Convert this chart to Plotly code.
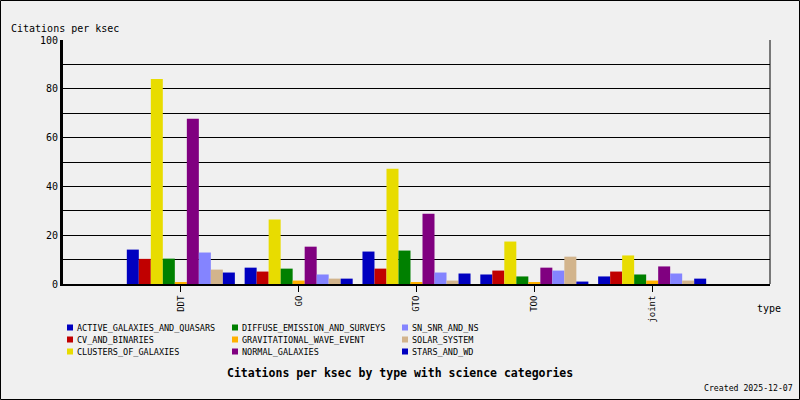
import plotly.graph_objects as go

types = ["DDT", "GO", "GTO", "TOO", "joint"]
categories = [
    "ACTIVE_GALAXIES_AND_QUASARS",
    "CV_AND_BINARIES",
    "CLUSTERS_OF_GALAXIES",
    "DIFFUSE_EMISSION_AND_SURVEYS",
    "GRAVITATIONAL_WAVE_EVENT",
    "NORMAL_GALAXIES",
    "SN_SNR_AND_NS",
    "SOLAR_SYSTEM",
    "STARS_AND_WD",
]
colors = ["#0000C0", "#C00000", "#E8DC00", "#008000", "#FFB000",
          "#800080", "#8484FF", "#D2B48C", "#0000C0"]

active_galaxies = [14.1, 6.7, 13.3, 3.9, 3.1]
cv_binaries = [10.3, 5.1, 6.3, 5.5, 5.1]
clusters = [84.0, 26.4, 47.2, 17.4, 11.7]
diffuse = [10.4, 6.3, 13.7, 3.1, 3.9]
grav_wave = [0.7, 1.4, 0.6, 0.6, 1.4]
normal_galaxies = [67.7, 15.3, 28.8, 6.7, 7.2]
sn_snr_ns = [12.9, 3.9, 4.7, 5.5, 4.3]
solar_system = [5.9, 2.2, 1.4, 11.2, 1.4]
stars_wd = [4.7, 2.2, 4.3, 1.0, 2.2]

series = [active_galaxies, cv_binaries, clusters, diffuse, grav_wave,
          normal_galaxies, sn_snr_ns, solar_system, stars_wd]

MONO = "DejaVu Sans Mono"
W, H = 800, 400
L, R, T, B = 63, 30, 40, 116
pw, ph = W - L - R, H - T - B


def px(x):
    return (x - L) / pw


def py(y):
    return (H - B - y) / ph


fig = go.Figure()
for name, vals, col in zip(categories, series, colors):
    fig.add_trace(go.Bar(x=types, y=vals, name=name, marker=dict(color=col, line=dict(width=0)),
                         showlegend=False))

shapes = []
annotations = []
# manual legend, column-major like reference
col_x = [67, 232, 402]
row_y = [327.5, 339.5, 351.5]
for i, (name, col) in enumerate(zip(categories, colors)):
    c, r = divmod(i, 3)
    x0 = col_x[c]
    yc = row_y[r]
    shapes.append(dict(type="rect", xref="paper", yref="paper",
                       x0=px(x0), x1=px(x0 + 6), y0=py(yc + 3), y1=py(yc - 3),
                       fillcolor=col, line=dict(width=0)))
    annotations.append(dict(text=name, xref="paper", yref="paper", x=px(x0 + 8), y=py(yc),
                            xanchor="left", yanchor="middle", showarrow=False,
                            font=dict(family=MONO, size=8.5, color="black")))

# right border of plot
shapes.append(dict(type="line", xref="paper", yref="paper", x0=1, x1=1, y0=0, y1=1,
                   line=dict(color="black", width=1)))
# outer frame
shapes.append(dict(type="rect", xref="paper", yref="paper",
                   x0=px(0.5), x1=px(W - 0.5), y0=py(H - 0.5), y1=py(0.5),
                   line=dict(color="black", width=1), fillcolor="rgba(0,0,0,0)"))

annotations += [
    dict(text="Citations per ksec", xref="paper", yref="paper", x=px(9), y=py(29),
         xanchor="left", yanchor="middle", showarrow=False,
         font=dict(family=MONO, size=10, color="black")),
    dict(text="type", xref="paper", yref="paper", x=px(769), y=py(308),
         xanchor="center", yanchor="middle", showarrow=False,
         font=dict(family=MONO, size=10, color="black")),
    dict(text="<b>Citations per ksec by type with science categories</b>", xref="paper", yref="paper",
         x=px(400), y=py(373), xanchor="center", yanchor="middle", showarrow=False,
         font=dict(family=MONO, size=11.5, color="black")),
    dict(text="Created 2025-12-07", xref="paper", yref="paper", x=px(795), y=py(388),
         xanchor="right", yanchor="middle", showarrow=False,
         font=dict(family=MONO, size=8.2, color="black")),
]

fig.update_layout(
    width=W, height=H,
    margin=dict(l=L, r=R, t=T, b=B, autoexpand=False),
    paper_bgcolor="#F0F0F0", plot_bgcolor="#F0F0F0",
    barmode="group", bargap=0.083, bargroupgap=0,
    showlegend=False,
    shapes=shapes, annotations=annotations,
    xaxis=dict(type="category", range=[-1, 5], showgrid=False, zeroline=False,
               showline=True, linecolor="black", linewidth=2, layer="below traces",
               ticks="outside", ticklen=6, tickcolor="black", tickwidth=1,
               tickangle=-90, tickfont=dict(family=MONO, size=9, color="black")),
    yaxis=dict(range=[0, 100], dtick=20, showgrid=True, gridcolor="black", gridwidth=1,
               minor=dict(dtick=10, showgrid=True, gridcolor="black", gridwidth=1),
               zeroline=False, showline=True, linecolor="black", linewidth=3,
               ticks="", tickfont=dict(family=MONO, size=10, color="black")),
)

fig.write_html("out.html", config={"displayModeBar": False},
               post_script="document.body.style.margin='0';document.body.style.overflow='hidden';")
